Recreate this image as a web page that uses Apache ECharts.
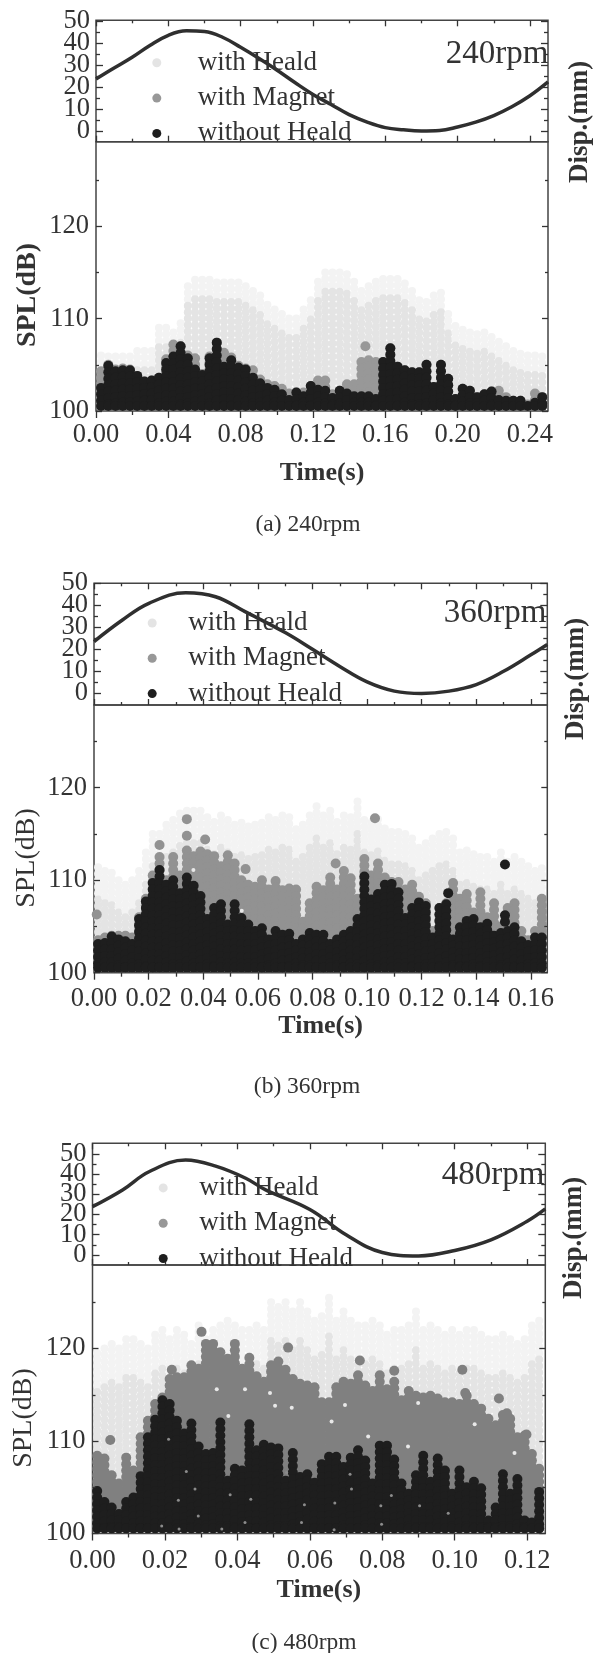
<!DOCTYPE html>
<html>
<head>
<meta charset="utf-8">
<title>SPL and displacement</title>
<script src="https://cdn.jsdelivr.net/npm/echarts@6/dist/echarts.min.js"></script>
<style>
  html, body { margin: 0; padding: 0; background: #fff; }
  #chart { width: 594px; height: 1653px; }
</style>
</head>
<body>
<div id="chart"></div>
<script>
// tick labels
const timeTicksA = [0, 0.04, 0.08, 0.12, 0.16, 0.20, 0.24];
const timeMinorA = [0.02, 0.06, 0.10, 0.14, 0.18, 0.22];
const timeTicksB = [0, 0.02, 0.04, 0.06, 0.08, 0.10, 0.12, 0.14, 0.16];
const timeMinorB = [0.01, 0.03, 0.05, 0.07, 0.09, 0.11, 0.13, 0.15];
const timeTicksC = [0, 0.02, 0.04, 0.06, 0.08, 0.10, 0.12];
const timeMinorC = [0.01, 0.03, 0.05, 0.07, 0.09, 0.11];
const dispTicks = [0, 10, 20, 30, 40, 50];
const dispMinor = [5, 15, 25, 35, 45];
// the disp labels nearly touch, echarts drops the 2nd and 2nd last if they share one axis
const dispLabelsOuter = [0, 20, 30, 50];
const dispLabelsInner = [10, 40];
const splTicks = [100, 110, 120];
const splMinor = [105, 115, 125];
const legendNames = ['with Heald', 'with Magnet', 'without Heald'];

// displacement curves, [time, mm]
const dispA = [[0,23.6],[0.01,28.6],[0.02,33.5],[0.03,39],[0.04,43.5],[0.05,45.5],[0.06,45.2],[0.07,42.6],[0.08,38],[0.09,33],[0.10,27.7],[0.11,22],[0.12,16.6],[0.13,12],[0.14,7.4],[0.15,4],[0.16,1.5],[0.17,0.5],[0.18,0],[0.19,0.2],[0.20,1.8],[0.21,4],[0.22,7],[0.23,11],[0.24,16],[0.25,22.3]];
const dispB = [[0,23.5],[0.0104,33.3],[0.0201,40.9],[0.0336,45.7],[0.0445,43.9],[0.0555,37],[0.07,27.6],[0.08,20],[0.09,12.2],[0.10,5.2],[0.11,1],[0.12,-0.1],[0.13,1],[0.14,4],[0.15,10],[0.16,17.5],[0.166,22.2]];
const dispC = [[0,23.9],[0.0083,32.2],[0.0156,41.2],[0.0257,47],[0.034,44],[0.0423,38],[0.0478,32.2],[0.06,22.5],[0.07,10],[0.08,1.2],[0.09,-0.5],[0.10,2.2],[0.11,7.5],[0.12,16.7],[0.125,22.8]];

// SPL, highest level reached in each time column (dB)
const withoutHealdA = [102.5,104.9,104.3,104.4,104.4,103.8,103.2,103.3,103.6,105.2,105.9,107,105.7,104.5,103.9,105.7,107.4,104.8,105.5,104.7,104.5,103.6,103,102.5,102.3,101.8,101.2,102,101.6,102.7,102.3,102.2,101.4,102.2,101.9,101.6,101.6,101.6,101.3,105.3,106.8,104.8,104.4,104.2,104.2,105,102.6,105,103.5,101.3,102.4,102.2,101.5,101.8,102.1,101.2,101.1,101.1,101.1,100.5,100.9,101.5];
const withMagnetA = [104.3,105,104.5,104.6,104.5,103.8,103.2,103.3,103.6,105.6,107.2,107,106,105.7,104,105.9,107.4,106.3,105.8,104.9,104.6,104.4,103.4,102.9,102.7,102.4,101.9,102,102,102.7,103.3,103.3,101.8,102.2,102.9,102.9,105.3,105.5,105.3,105.3,106.8,104.8,104.4,104.2,104.2,105,102.6,105,103.5,101.3,102.4,102.2,101.5,101.8,102.1,102.2,101.5,101.1,101.1,100.7,101.9,101.5];
const withHealdA = [106,105.9,105.9,105.9,105.9,106.5,106.5,106.5,109,109,108.5,109.5,113.5,114.2,114.2,114.2,113.9,113.9,113.9,113.9,113.5,113,112.5,111.5,111,110.5,110,110,111,112,114,115,115,115,114.8,114,113,113.5,114,114.3,114.3,114.3,113.8,113,112,111.8,112.5,112.8,110.5,109.2,108.8,108.5,108.3,108.5,108,107.5,107,106.5,106.2,106,106,105.9];

const withoutHealdB = [103.1,103.2,103.9,103.6,103.4,103.1,105.8,107.7,109.7,111.1,109.5,110,108.6,110.3,109.4,108.3,105.8,107,107.4,105.2,107.4,105.9,105.2,104.5,104.8,103.6,104.5,104.1,104.2,103.1,103.6,104.3,104.1,104.1,103.1,103.6,104.1,104.5,105.8,110.4,107.9,108.5,109.5,109.6,108.7,105.9,107,107.6,107.2,103.8,107,107.4,103.6,104.9,105.6,105.8,104.9,105.3,104,104.3,104.5,104.9,103.4,103,103.8,103.8];
const withMagnetB = [103.5,103.8,104,104,104,103.8,106,108,110.5,112.5,110,112.5,110.5,113.2,112.6,113.1,112.8,112.6,111.5,112.7,111.8,110,109.5,109.3,110,109,109.9,108.9,109.1,109,105.5,107.5,109.3,108.9,110.3,109,111,110.2,108,112.3,110.5,111.8,110.3,109.8,109.8,109,109.5,108.2,107.5,104.5,107,107.5,109.7,108,108.5,106.5,108.7,106,107.5,105,107,107.5,104.5,103.5,104.5,108];
const withHealdB = [111.4,111,110.8,110,109.5,110,111,113,115,115,116,116.5,117.2,117.5,117.5,117.5,116.8,116.3,117,116.5,116,116.2,115.8,116,116.2,116.8,116.5,117,116.8,115.5,116,117,118,117,117.5,116.3,117,116.8,118.5,116.5,116.2,116.6,115.6,115.2,115.2,115,114.5,113.5,114,114.5,115,115.2,114.5,113,113.2,112.8,112.5,112.5,112,113,112,112.5,112,111.5,111,111.3];

const withoutHealdC = [104.6,103.4,102.8,102.1,103.4,103.9,106.2,110.4,112.3,114.4,114,112.2,110.8,111.9,109.4,108.6,108.7,112,105.7,107,106.8,111.8,109,109.6,109.3,109.2,105.7,108.7,106.1,106.4,105.5,107.5,108.3,108.3,107.2,108.2,109,107.9,105.4,109.5,109.5,108,105.4,104.3,106.3,108.4,105.6,108.1,106.8,104.3,106.8,105,105.6,104.9,101.4,102.8,106.4,104.3,105.9,101.4,101.2,104.5];
const withMagnetC = [108.4,108.1,106.3,105.4,108.2,106.8,110.4,112.2,114,114.7,116.7,116.9,116.9,118.2,117.8,120.5,120.5,119.6,118.9,120.5,117.8,119,117,116.4,118.2,118.6,117.7,116.7,116.2,116,115.8,114.2,114.2,115.8,116.4,116.2,117.1,116,115.4,117.1,115.6,116.4,114.4,115.4,114.9,114.7,114.9,114.6,114.2,114.2,114,114.9,114,113.5,112.4,111.7,112.8,112.4,110.4,110.6,108.6,107];
const withHealdC = [119.5,120,120.5,120,121,121,120.5,120,121.5,122,121,122,121.5,120.5,122.5,121,122,122.5,123,122.5,122,122,122.5,122,125,124.5,125,124,125,124,123,123.5,125.5,123,124,123,122.5,122.5,123,122.5,121.5,122,122,122.5,124,122,122.5,122,121.5,122,121.5,122,122,121.5,121,121,121.5,121,120.5,121,122.5,123];

// single dots standing clear of the columns, [time, dB]
const strayMagnetA = [[0.149,107]];
const strayMagnetB = [[0.001,106.3],[0.034,116.6],[0.034,114.8],[0.0407,114.4],[0.024,113.8],[0.0555,111.2],[0.0885,111.8],[0.1029,116.7]];
const strayMagnetC = [[0.0049,110.1],[0.0301,121.8],[0.054,120.1],[0.0219,117.7],[0.0738,118.7],[0.0833,117.6],[0.1021,117.7],[0.1122,114.6],[0.1198,110.7],[0.1029,115.2],[0.1144,113]];
const strayNoHealdB = [[0.1505,111.7],[0.1505,106.2],[0.1505,105.5],[0.1297,108.6]];

// holes left between the dots, [time, dB]
const holesMagnetB = [[0.0541,106.7],[0.0364,111.1]];
const holesMagnetC = [[0.0504,113.8],[0.0375,112.7],[0.055,113.6],[0.0343,115.6],[0.049,115.2],[0.0421,115.6],[0.0871,109.4],[0.0697,113.9],[0.0899,114.1],[0.1055,111.8],[0.0761,110.5],[0.1165,108.7],[0.066,112.1]];
const holesBlackC = [[0.0239,100.5],[0.0357,100.5],[0.0577,101.2],[0.0292,101.9],[0.0283,104.8],[0.0237,103.6],[0.0437,103.7],[0.0585,103.1],[0.0259,106.7],[0.021,110.2],[0.0191,100.8],[0.0421,101.2],[0.038,104.2],[0.0536,106.6],[0.0798,101],[0.0667,100.4],[0.0669,103.3],[0.0796,103],[0.0982,102.2],[0.0711,106.4],[0.0903,103],[0.0715,104.8],[0.0825,104.1]];

const INK = '#333';
const LIGHT = '#e4e4e4', PALE = '#f3f3f3', DARK = '#1e1e1e';
const SERIF = '"Liberation Serif", "Times New Roman", serif';

const panels = [
  { left: 96, right: 548, top: 20.3, split: 141.7, bottom: 411, xMax: 0.25, dispMin: -4.9, dispMax: 50.3, splMax: 129.15,
    ticks: timeTicksA, minor: timeMinorA, start: 0.0028, step: 0.004, disp: dispA,
    light: withHealdA, mid: withMagnetA, dark: withoutHealdA, strayMid: strayMagnetA, strayDark: [],
    holesMid: [], holesDark: [], fade: 1.5, midColor: '#989898', labelGap: 11, nameGap: 49, legendLeft: 147.3, legendTop: 44.3, keyWidth: 72 },
  { left: 94, right: 547.3, top: 583.3, split: 705, bottom: 972.7, xMax: 0.166, dispMin: -5.3, dispMax: 50, splMax: 128.94,
    ticks: timeTicksB, minor: timeMinorB, start: 0.0015, step: 0.0025, disp: dispB,
    light: withHealdB, mid: withMagnetB, dark: withoutHealdB, strayMid: strayMagnetB, strayDark: strayNoHealdB,
    holesMid: holesMagnetB, holesDark: [], fade: 3, midColor: '#929292', labelGap: 13, nameGap: 41, legendLeft: 142.7, legendTop: 604.5, keyWidth: 62 },
  { left: 92.5, right: 545.3, top: 1143.3, split: 1265, bottom: 1533.5, xMax: 0.125, dispMin: -5, dispMax: 55.3, splMax: 129.03,
    ticks: timeTicksC, minor: timeMinorC, start: 0.0013, step: 0.002, disp: dispC,
    light: withHealdC, mid: withMagnetC, dark: withoutHealdC, strayMid: strayMagnetC, strayDark: [],
    holesMid: holesMagnetC, holesDark: holesBlackC, fade: 4, midColor: '#808080', labelGap: 14, nameGap: 44, legendLeft: 153.7, legendTop: 1169.4, keyWidth: 62 }
];

// one column of stacked dots per time step, from the read top down to the axis
function columnDots(tops, start, step, fade) {
  const out = [];
  tops.forEach(function (top, i) {
    const t = start + step * i;
    for (let db = top; db > 100.55; db -= 0.7) {
      out.push(fade ? { value: [t, db], itemStyle: { color: top - db < fade ? PALE : LIGHT } } : [t, db]);
    }
    out.push(fade ? { value: [t, 100.55], itemStyle: { color: LIGHT } } : [t, 100.55]);
  });
  return out;
}

const grids = [], xAxes = [], yAxes = [], series = [], legends = [];

function tickAxis(list, grid, position, min, max, values, len, inside, extra) {
  list.push(Object.assign({
    type: 'value', gridIndex: grid, position: position, min: min, max: max, z: 5,
    splitLine: { show: false }, axisLine: { show: false, onZero: false },
    axisTick: { show: true, customValues: values, length: len, inside: inside, lineStyle: { color: INK, width: 1.3 } },
    axisLabel: { show: false }
  }, extra || {}));
  return list.length - 1;
}

function tickFont() {
  return { show: true, color: INK, fontFamily: SERIF, fontSize: 26.5, hideOverlap: false, showMinLabel: true, showMaxLabel: true };
}

panels.forEach(function (p) {
  const width = p.right - p.left;
  const frame = { show: true, borderColor: '#444', borderWidth: 1.5, backgroundColor: 'transparent' };
  const upper = grids.length;
  grids.push(Object.assign({ left: p.left, top: p.top, width: width, height: p.split - p.top }, frame));
  const lower = grids.length;
  grids.push(Object.assign({ left: p.left, top: p.split, width: width, height: p.bottom - p.split }, frame));

  // displacement panel, ticks inside on all four sides
  const ux = tickAxis(xAxes, upper, 'bottom', 0, p.xMax, p.ticks, 6, true);
  tickAxis(xAxes, upper, 'bottom', 0, p.xMax, p.minor, 3, true);
  tickAxis(xAxes, upper, 'top', 0, p.xMax, p.ticks, 6, true);
  tickAxis(xAxes, upper, 'top', 0, p.xMax, p.minor, 3, true);
  const uy = tickAxis(yAxes, upper, 'left', p.dispMin, p.dispMax, dispTicks, 7, true, {
    axisLabel: Object.assign(tickFont(), { customValues: dispLabelsOuter, margin: 6 })
  });
  tickAxis(yAxes, upper, 'left', p.dispMin, p.dispMax, dispMinor, 4, true, {
    axisLabel: Object.assign(tickFont(), { customValues: dispLabelsInner, margin: 6 })
  });
  tickAxis(yAxes, upper, 'right', p.dispMin, p.dispMax, dispTicks, 7, true);
  tickAxis(yAxes, upper, 'right', p.dispMin, p.dispMax, dispMinor, 4, true);

  // SPL panel, time ticks outside and level ticks inside
  const lx = tickAxis(xAxes, lower, 'bottom', 0, p.xMax, p.ticks, 7, false, {
    name: 'Time(s)', nameLocation: 'middle', nameGap: p.nameGap,
    nameTextStyle: { color: INK, fontFamily: SERIF, fontSize: 26, fontWeight: 'bold' },
    axisLabel: Object.assign(tickFont(), { customValues: p.ticks, margin: p.labelGap,
      formatter: function (v) { return v.toFixed(2); } })
  });
  tickAxis(xAxes, lower, 'bottom', 0, p.xMax, p.minor, 4, false);
  const ly = tickAxis(yAxes, lower, 'left', 100, p.splMax, splTicks, 6, true, {
    axisLabel: Object.assign(tickFont(), { customValues: splTicks, margin: 7 })
  });
  tickAxis(yAxes, lower, 'left', 100, p.splMax, splMinor, 3, true);
  tickAxis(yAxes, lower, 'right', 100, p.splMax, splTicks, 6, true);
  tickAxis(yAxes, lower, 'right', 100, p.splMax, splMinor, 3, true);

  const dot = { type: 'scatter', xAxisIndex: lx, yAxisIndex: ly, silent: true };
  series.push(Object.assign({}, dot, { name: legendNames[0], symbolSize: 8, itemStyle: { color: LIGHT, opacity: 1 },
    data: columnDots(p.light, p.start, p.step, p.fade) }));
  series.push(Object.assign({}, dot, { name: legendNames[1], symbolSize: 10, itemStyle: { color: p.midColor, opacity: 1 },
    data: columnDots(p.mid, p.start, p.step).concat(p.strayMid) }));
  series.push(Object.assign({}, dot, { symbolSize: 4, itemStyle: { color: '#e8e8e8', opacity: 1 }, data: p.holesMid }));
  series.push(Object.assign({}, dot, { name: legendNames[2], symbolSize: 10, itemStyle: { color: DARK, opacity: 1 },
    data: columnDots(p.dark, p.start, p.step).concat(p.strayDark) }));
  series.push(Object.assign({}, dot, { symbolSize: 3, itemStyle: { color: '#8c8c8c', opacity: 1 }, data: p.holesDark }));
  series.push({ type: 'line', xAxisIndex: ux, yAxisIndex: uy, data: p.disp, smooth: 0.4, showSymbol: false, silent: true,
    lineStyle: { color: '#2f2f2f', width: 3.5 } });

  legends.push({
    show: true, orient: 'vertical', left: p.legendLeft, top: p.legendTop, itemWidth: p.keyWidth, itemHeight: 9, itemGap: 8.3,
    selectedMode: false, data: legendNames, z: 6,
    textStyle: { color: INK, fontFamily: SERIF, fontSize: 27 }
  });
});

function label(text, x, y, size, bold, rotate) {
  return { type: 'text', x: x, y: y, rotation: rotate ? Math.PI / 2 : 0, z: 10, silent: true,
    style: { text: text, fill: INK, font: (bold ? 'bold ' : '') + size + 'px ' + SERIF, textAlign: 'center', textVerticalAlign: 'middle' } };
}

const labels = [
  label('240rpm', 497, 54, 33), label('360rpm', 495, 613, 33), label('480rpm', 493, 1175, 33),
  label('Disp.(mm)', 580, 122, 27, true, true), label('Disp.(mm)', 576, 679, 27, true, true), label('Disp.(mm)', 574, 1238, 27, true, true),
  label('SPL(dB)', 28, 295, 28, true, true), label('SPL(dB)', 27, 858, 28, false, true), label('SPL(dB)', 24, 1418, 28, false, true),
  label('(a) 240rpm', 308, 525, 23.5), label('(b) 360rpm', 307, 1087, 23.5), label('(c) 480rpm', 304, 1643, 23.5)
];

const myChart = echarts.init(document.getElementById('chart'));
myChart.setOption({
  animation: false,
  backgroundColor: '#fff',
  grid: grids,
  xAxis: xAxes,
  yAxis: yAxes,
  legend: legends,
  series: series,
  graphic: labels
});
</script>
</body>
</html>
